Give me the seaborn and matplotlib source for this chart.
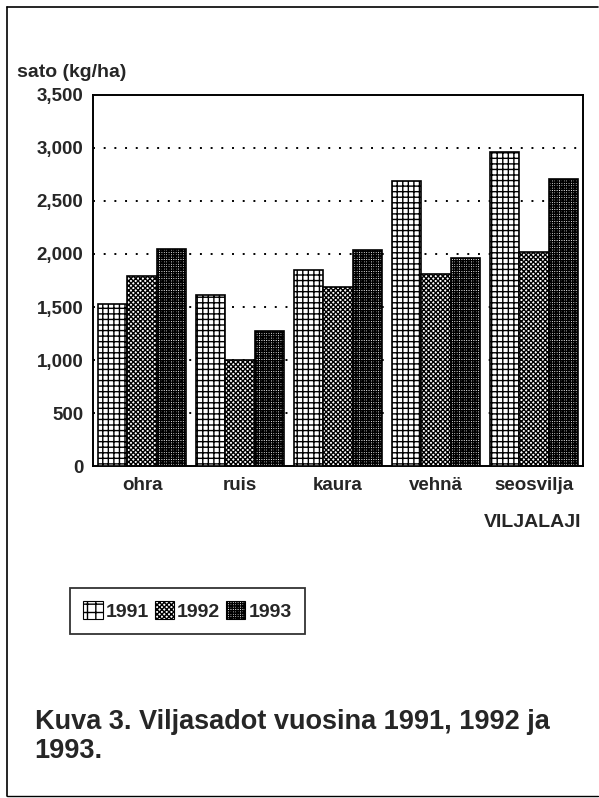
import pandas as pd
import numpy as np
import matplotlib.pyplot as plt
import seaborn as sns
from matplotlib.patches import Rectangle
from matplotlib.lines import Line2D

# Grain yields (kg/ha)
crops = ['ohra', 'ruis', 'kaura', 'vehnä', 'seosvilja']
years = ['1991', '1992', '1993']
yield_1991 = [1530, 1610, 1850, 2690, 2960]
yield_1992 = [1790, 1000, 1690, 1810, 2020]
yield_1993 = [2050, 1270, 2040, 1960, 2710]
y_ticks = [0, 500, 1000, 1500, 2000, 2500, 3000, 3500]
y_tick_labels = ['0', '500', '1,000', '1,500', '2,000', '2,500', '3,000', '3,500']

df = pd.DataFrame({
    'Crop': crops * 3,
    'Year': [y for y in years for _ in crops],
    'Yield': yield_1991 + yield_1992 + yield_1993,
})

sns.set_style('white')
plt.rcParams['font.family'] = ['Liberation Sans', 'DejaVu Sans']
plt.rcParams['hatch.linewidth'] = 1.0
plt.rcParams['hatch.color'] = 'black'

fig = plt.figure(figsize=(5.99, 7.98), dpi=100)
ax = fig.add_axes([0.1553, 0.416, 0.818, 0.465])

sns.barplot(data=df, x='Crop', y='Yield', hue='Year', order=crops, hue_order=years,
            width=0.89, palette=['white'] * 3, edgecolor='black',
            linewidth=1.2, legend=False, ax=ax, zorder=3)

hatches = ['+++', 'xxxxxxx', '+++++++']
for container, h in zip(ax.containers, hatches):
    for bar in container:
        bar.set_hatch(h)
        bar.set_facecolor('white')
        bar.set_edgecolor('black')

ax.set_ylim(0, 3500)
ax.set_yticks(y_ticks)
ax.set_yticklabels(y_tick_labels, fontsize=13.5, fontweight='bold')
ax.set_xticks(range(len(crops)))
ax.set_xticklabels(crops, fontsize=13.5, fontweight='bold')
ax.tick_params(axis='y', length=0, pad=7)
ax.tick_params(axis='x', length=0, pad=8)
ax.set_xlabel('')
ax.set_ylabel('')
for y in y_ticks[1:-1]:
    ax.axhline(y, color='black', linestyle=(0, (1, 4.5)), linewidth=1.4, zorder=1)
for s in ax.spines.values():
    s.set_visible(True)
    s.set_color('black')
    s.set_linewidth(1.4)

fig.text(0.028, 0.903, 'sato (kg/ha)', fontsize=14, fontweight='bold')
fig.text(0.97, 0.339, 'VILJALAJI', fontsize=14, fontweight='bold', ha='right')

# legend with hatched boxes
handles = [Rectangle((0, 0), 1, 1, facecolor='white', edgecolor='black', hatch=h, linewidth=0.8)
           for h in ['++', 'xxxxxxx', '+++++++']]
leg = fig.legend(handles, years, loc='upper left', bbox_to_anchor=(0.1, 0.2757), ncol=3,
                 frameon=True, fancybox=False, edgecolor='black',
                 handlelength=1.0, handleheight=1.0, handletextpad=0.15, columnspacing=0.3,
                 borderpad=0.7, prop={'weight': 'bold', 'size': 14})
leg.get_frame().set_linewidth(1.3)

fig.text(0.058, 1 - 729 / 798, 'Kuva 3. Viljasadot vuosina 1991, 1992 ja',
         fontsize=19.5, fontweight='bold', va='baseline')
fig.text(0.058, 1 - 758 / 798, '1993.', fontsize=19.5, fontweight='bold', va='baseline')

# page frame of the scan
fig.add_artist(Line2D([0.012, 0.999], [0.991, 0.991], color='black', linewidth=1.2))
fig.add_artist(Line2D([0.012, 0.012], [0.002, 0.991], color='black', linewidth=1.2))
fig.add_artist(Line2D([0.012, 0.999], [0.002, 0.002], color='black', linewidth=1.0))

fig.savefig('out.png', dpi=100)
plt.close(fig)
